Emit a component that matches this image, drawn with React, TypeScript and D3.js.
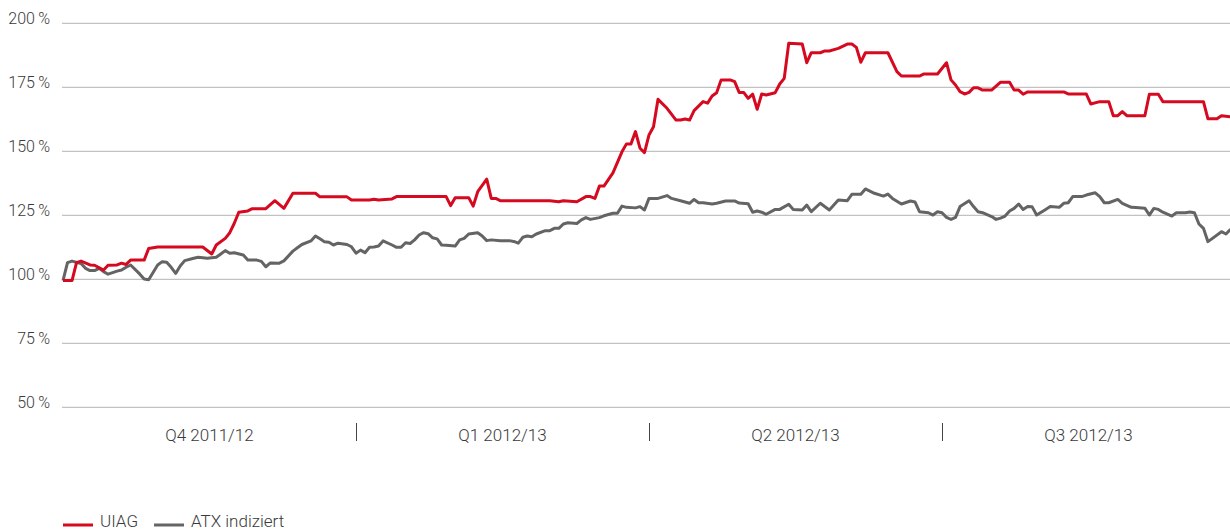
import { useEffect, useRef } from "react";
import * as d3 from "d3";

// trading days since start of Q4 2011/12, and indexed values in %
const uiagDay = [0, 2, 3, 4, 6, 7, 9, 10, 12, 13, 14, 15, 18, 19, 21, 31, 33, 34, 36, 37, 38, 39, 41, 42, 45, 47, 49, 51, 56, 57, 63, 64, 68, 69, 70, 73, 74, 85, 86, 87, 90, 91, 92, 94, 95, 96, 97, 108, 110, 111, 114, 116, 117, 118, 119, 120, 122, 124, 125, 126, 127, 128, 129, 130, 131, 132, 134, 136, 137, 138, 139, 140, 142, 143, 144, 145, 146, 148, 149, 150, 151, 152, 153, 154, 155, 156, 158, 159, 160, 161, 164, 165, 166, 168, 169, 170, 172, 174, 175, 176, 177, 178, 183, 185, 186, 190, 191, 194, 196, 197, 198, 199, 200, 201, 202, 203, 204, 206, 208, 210, 211, 212, 213, 214, 222, 223, 227, 228, 230, 232, 233, 234, 235, 236, 240, 241, 243, 244, 253, 254, 256, 257, 259];
const uiagValue = [99.5, 99.5, 106.5, 107.1, 105.6, 105.5, 103.6, 105.5, 105.6, 106.3, 105.8, 107.5, 107.5, 112, 112.6, 112.6, 109.9, 113.4, 116, 118.2, 121.9, 126.2, 126.7, 127.6, 127.6, 130.7, 127.7, 133.6, 133.6, 132.2, 132.2, 131, 131, 131.3, 131, 131.4, 132.3, 132.3, 128.8, 131.9, 131.9, 128.6, 134.2, 139.1, 131.6, 131.6, 130.7, 130.7, 130.3, 130.7, 130.3, 132.3, 132.3, 131.6, 136.4, 136.4, 141.6, 149.8, 152.9, 152.9, 157.7, 151.2, 149.5, 156.4, 159.6, 170.3, 166.8, 162.2, 162.2, 162.6, 162.2, 165.9, 169.4, 168.8, 171.6, 172.9, 177.9, 177.9, 177.2, 173, 173, 170.7, 172.3, 166.4, 172.4, 172, 172.9, 176.3, 178.5, 192.2, 191.9, 184.6, 188.5, 188.5, 189.2, 189.2, 190.2, 191.9, 191.9, 190.6, 184.8, 188.5, 188.5, 181.1, 179.4, 179.4, 180.2, 180.2, 184.6, 177.9, 175.9, 173.3, 172.4, 173, 174.8, 174.8, 173.9, 173.9, 177, 177, 173.9, 173.9, 172.3, 173.2, 173.2, 172.4, 172.4, 168.5, 169.4, 169.4, 163.9, 163.9, 165.5, 163.9, 163.9, 172.3, 172.3, 169.4, 169.4, 162.7, 162.7, 163.9, 163.5];

const atxDay = [0, 1, 2, 4, 5, 6, 7, 8, 9, 10, 12, 13, 14, 15, 17, 18, 19, 21, 22, 23, 24, 25, 26, 27, 29, 30, 32, 34, 35, 36, 37, 38, 40, 41, 43, 44, 45, 46, 48, 49, 51, 52, 53, 55, 56, 57, 58, 59, 60, 61, 63, 64, 65, 66, 67, 68, 69, 70, 71, 73, 74, 75, 76, 77, 78, 79, 80, 81, 82, 83, 84, 85, 87, 88, 89, 90, 92, 93, 94, 95, 97, 99, 100, 101, 102, 103, 104, 105, 107, 108, 109, 110, 111, 112, 114, 115, 116, 117, 119, 120, 122, 123, 124, 125, 127, 128, 129, 130, 132, 134, 135, 137, 139, 140, 141, 142, 144, 145, 147, 149, 150, 152, 153, 154, 155, 156, 158, 159, 161, 162, 164, 165, 166, 168, 170, 172, 174, 175, 177, 178, 180, 182, 183, 184, 186, 188, 189, 190, 192, 193, 194, 195, 196, 197, 198, 199, 201, 202, 203, 204, 206, 207, 208, 209, 210, 211, 212, 213, 214, 215, 216, 218, 219, 221, 222, 223, 224, 226, 227, 229, 230, 231, 232, 234, 235, 237, 238, 240, 241, 242, 243, 244, 246, 247, 249, 250, 251, 252, 253, 254, 255, 257, 258, 259];
const atxValue = [99.5, 106.5, 107.1, 106.2, 104.3, 103.4, 103.4, 104.3, 103, 102, 103.2, 103.6, 104.7, 105.6, 102.1, 100.1, 99.8, 105.6, 106.9, 106.7, 104.7, 102.3, 105.2, 107.3, 108.2, 108.6, 108.2, 108.6, 109.9, 111.2, 110.2, 110.4, 109.5, 107.5, 107.5, 107, 104.9, 106.4, 106.3, 107.2, 111, 112.3, 113.6, 115, 116.9, 115.8, 114.7, 114.5, 113.4, 114.1, 113.6, 112.7, 110.2, 111.4, 110.4, 112.5, 112.6, 113, 115, 113.4, 112.5, 112.5, 114.3, 114, 115.4, 117.3, 118.2, 117.8, 116.2, 115.8, 113.4, 113.3, 113, 115.4, 116, 117.7, 118.2, 116.9, 115.1, 115.4, 115.1, 115.1, 114.8, 114.1, 116.4, 116.9, 116.6, 117.7, 119, 119, 119.9, 119.9, 121.6, 122.1, 121.8, 123.2, 124.1, 123.4, 124.1, 124.8, 125.8, 125.8, 128.6, 128.1, 127.9, 128.4, 127.1, 131.6, 131.6, 132.7, 131.6, 130.7, 129.7, 131.2, 129.9, 129.9, 129.4, 129.7, 130.6, 130.6, 129.8, 129.5, 126.2, 126.7, 126.2, 125.4, 127.3, 127.3, 129.3, 127.3, 127.1, 129, 126.4, 129.7, 127.1, 131, 130.7, 133.2, 133.2, 135.3, 133.6, 132.5, 133.3, 131.6, 129.4, 130.6, 130.2, 126.4, 126, 125.1, 126.4, 126, 124.2, 123.4, 124.2, 128.4, 130.7, 128.4, 126.4, 126, 124.5, 123.4, 123.9, 124.7, 126.7, 127.7, 129.4, 127.3, 128.4, 128.3, 125.1, 127.3, 128.4, 128.1, 129.7, 129.9, 132.3, 132.3, 132.9, 133.8, 132.3, 129.9, 129.9, 131.2, 129.7, 128.1, 128, 127.8, 125.1, 127.7, 127.3, 126.2, 124.7, 126, 126, 126.3, 126, 121.6, 119.9, 114.7, 116, 118.6, 117.7, 119.5];

const yTicks = [50, 75, 100, 125, 150, 175, 200];
const quarters = ["Q4 2011/12", "Q1 2012/13", "Q2 2012/13", "Q3 2012/13"];
const daysPerQuarter = 65;

const series = [
  { name: "UIAG", days: uiagDay, values: uiagValue, color: "#d5091f" },
  { name: "ATX indiziert", days: atxDay, values: atxValue, color: "#646464" },
];

const font = "Roboto, 'DejaVu Sans', sans-serif";

function App() {
  const ref = useRef<SVGSVGElement>(null);

  useEffect(() => {
    const svg = d3.select(ref.current);
    svg.selectAll("*").remove();

    const x = d3.scaleLinear().domain([0, daysPerQuarter * 4]).range([63, 1235]);
    const y = d3.scaleLinear().domain([50, 200]).range([407.3, 23.3]);

    // gridlines + y labels
    const grid = svg.append("g");
    yTicks.forEach((t) => {
      grid.append("line")
        .attr("x1", 62).attr("x2", 1230)
        .attr("y1", y(t)).attr("y2", y(t))
        .attr("stroke", "#b3b3b3").attr("stroke-width", 1);
      grid.append("text")
        .attr("x", 50).attr("y", y(t) + 1)
        .attr("text-anchor", "end")
        .attr("font-family", font).attr("font-weight", 300)
        .attr("font-size", 16).attr("fill", "#3a3a3a")
        .text(`${t}\u2009%`);
    });

    // quarter labels and separators
    quarters.forEach((q, i) => {
      const mid = x(daysPerQuarter * (i + 0.5));
      svg.append("text")
        .attr("x", mid).attr("y", 441)
        .attr("text-anchor", "middle")
        .attr("font-family", font).attr("font-weight", 300)
        .attr("font-size", 17).attr("fill", "#3a3a3a")
        .text(q);
      if (i > 0) {
        const sx = Math.round(x(daysPerQuarter * i)) + 0.5;
        svg.append("line")
          .attr("x1", sx).attr("x2", sx)
          .attr("y1", 423).attr("y2", 441)
          .attr("stroke", "#444").attr("stroke-width", 1);
      }
    });

    // lines (ATX underneath)
    [...series].reverse().forEach((s) => {
      const pts: [number, number][] = s.days.map((d, i) => [x(d), y(s.values[i])]);
      svg.append("path")
        .attr("fill", "none")
        .attr("stroke", s.color)
        .attr("stroke-width", 3)
        .attr("stroke-linejoin", "round")
        .attr("d", d3.line()(pts));
    });

    // legend
    let lx = 63;
    series.forEach((s) => {
      const g = svg.append("g").attr("transform", `translate(${lx}, 525)`);
      g.append("line")
        .attr("x1", 0).attr("x2", 30)
        .attr("y1", 0).attr("y2", 0)
        .attr("stroke", s.color).attr("stroke-width", 3);
      const t = g.append("text")
        .attr("x", 37).attr("y", 2)
        .attr("font-family", font).attr("font-weight", 300)
        .attr("font-size", 17).attr("fill", "#3a3a3a")
        .text(s.name);
      const w = (t.node() as SVGTextElement).getComputedTextLength();
      lx += 37 + w + 16;
    });
  }, []);

  return (
    <svg ref={ref} width={1230} height={530}
      style={{ position: "absolute", left: 0, top: 0, background: "#fff" }} />
  );
}

export default App;
